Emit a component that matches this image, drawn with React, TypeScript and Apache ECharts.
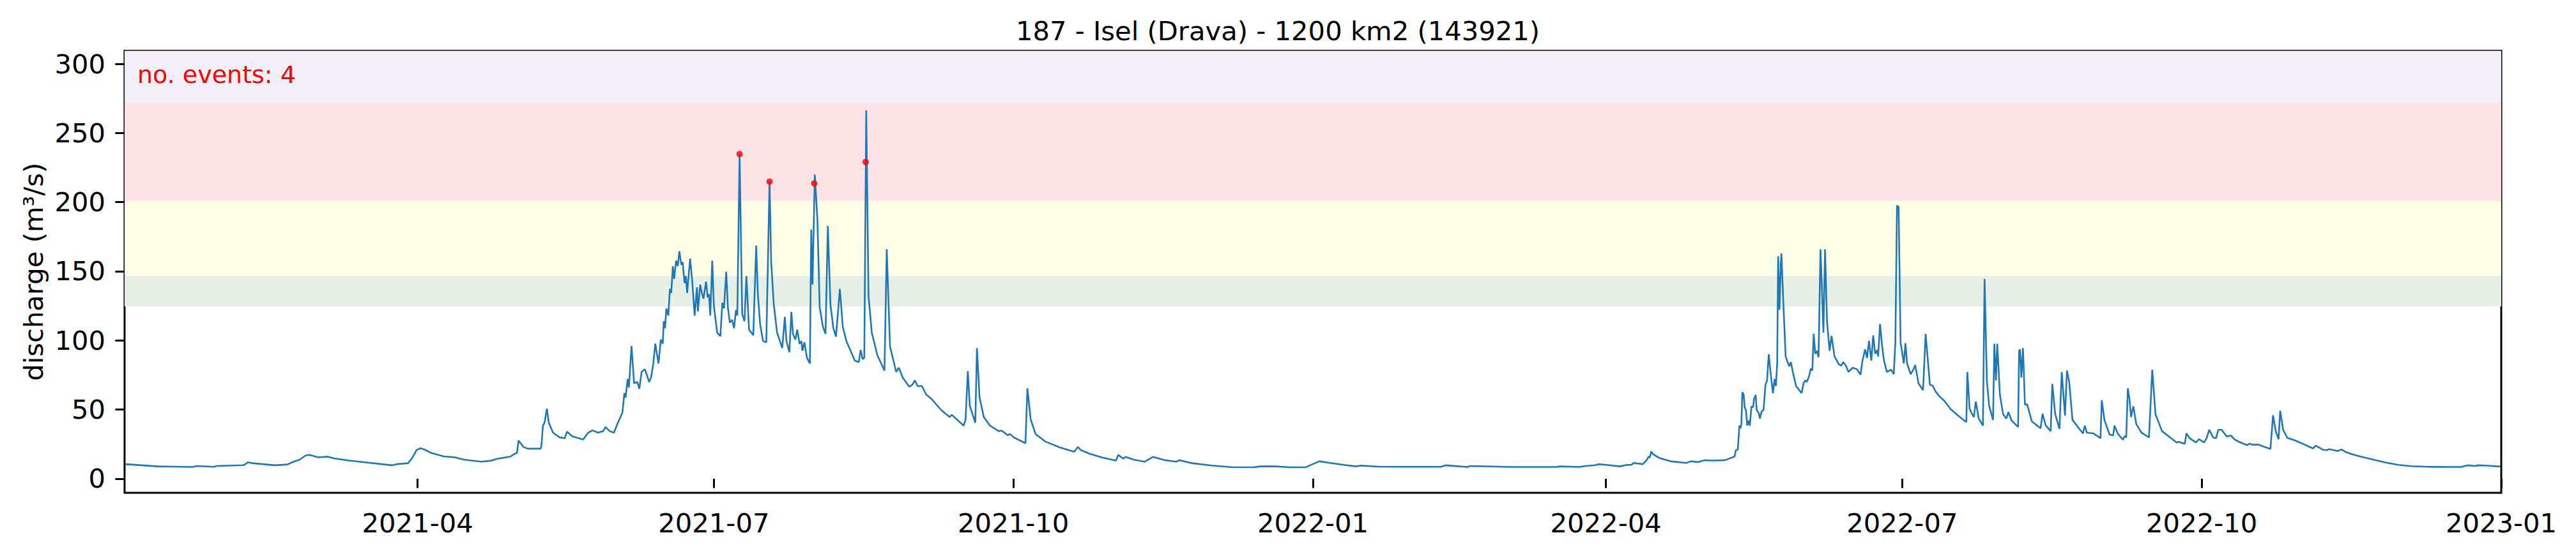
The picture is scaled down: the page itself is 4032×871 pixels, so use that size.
import { useEffect, useRef } from "react";
import * as echarts from "echarts";

// day offsets from 2021-01-01 and discharge (m3/s)
const discharge: [number, number][] = [
  [0.2, 10.5], [10.3, 8.9], [21, 8.5], [22.1, 9.2], [27.5, 8.6], [28.2, 9.2], [36.3, 9.8], [37, 10.3],
  [37.9, 12], [39.3, 11.2], [46.2, 9.7], [50, 10.3], [51.9, 12.3], [53.8, 13.8], [55.7, 16.9], [56.9, 17.2],
  [59.6, 15.4], [62.2, 16], [64.5, 14.6], [69.1, 13.1], [75.2, 11.5], [82.1, 9.7], [83.6, 10.5], [87.1, 11.2],
  [88.2, 14.6], [89, 17.7], [89.7, 20.8], [90.9, 22], [92, 21.2], [94.3, 18.5], [98.1, 16.1], [101.6, 15.4],
  [104.2, 13.8], [109.6, 12.3], [112.7, 13.1], [114.2, 14.3], [118.5, 16], [119.8, 18], [120.5, 18.5],
  [121, 27.6], [122.5, 23], [123.8, 21.7], [127.7, 21.7], [128, 23], [128.5, 38.4], [129, 40.5],
  [129.7, 50.7], [130.3, 40.5], [131.6, 33.3], [133.6, 29.9], [135.2, 29.3], [135.9, 34], [137.5, 30.7],
  [140.8, 28.3], [142.4, 33.3], [143.7, 35], [145.4, 33.3], [147, 34.4], [147.7, 37.4], [149, 34.4],
  [150.3, 33.3], [151.6, 40.9], [152.9, 47.6], [153.5, 61.9], [153.9, 58.8], [154.5, 72.1], [154.9, 66],
  [155.7, 96], [156.5, 69], [157.5, 70], [158.1, 65], [158.8, 77.2], [159.8, 79.2], [160.4, 75.2],
  [161.1, 70], [161.7, 73.1], [162.4, 83.3], [163, 97.6], [164, 83.3], [164.7, 100.6], [165.3, 97.6],
  [165.6, 113.9], [166, 108.8], [166.4, 123.1], [167, 118], [167.5, 137.3], [167.9, 134.3], [168.4, 153.7],
  [168.8, 144.5], [169.4, 157.7], [169.9, 153.7], [170.4, 164.5], [171, 154.7], [171.4, 156.7],
  [172, 141.4], [172.4, 146.5], [172.8, 134.3], [173.7, 159.2], [174.3, 144.5], [175.1, 118],
  [175.8, 138.4], [176.1, 121], [176.8, 140.4], [177.3, 134.3], [177.8, 130.2], [178.6, 142.5],
  [179.1, 131.2], [179.5, 133.3], [179.9, 118], [180.5, 157.7], [181, 125.1], [182, 105.7], [183, 103.1],
  [183.6, 127.2], [184.1, 123.1], [184.8, 149.6], [185.3, 124.1], [185.9, 112.9], [186.6, 114.9],
  [187.2, 108.8], [187.8, 122.1], [188.2, 118], [188.9, 234.8], [189.7, 119], [190.4, 113.9], [191, 146.5],
  [191.8, 107.8], [193.1, 103.7], [194, 168.6], [194.5, 134.3], [195.2, 111.9], [196.1, 99.6],
  [197.1, 98.6], [198.1, 214.9], [198.6, 156.7], [199.4, 126.1], [200.4, 105.7], [202, 94.5],
  [202.8, 117], [203.3, 99.6], [204.2, 91.5], [204.8, 120.6], [205.3, 104.7], [206, 100.6], [206.6, 107.8],
  [207.3, 97.6], [207.9, 99.6], [208.2, 92.5], [208.8, 98.6], [209.6, 87.4], [210.5, 83.3], [210.9, 180.2],
  [211.3, 140.4], [212, 219.9], [212.8, 187.3], [213.5, 124.1], [214.5, 109.8], [215.3, 104.7],
  [216, 182.8], [216.8, 126.1], [217.7, 108.8], [218.5, 102.7], [218.9, 113.9], [219.7, 137.3],
  [220.6, 109.8], [221.7, 99.6], [224.3, 85.4], [225.5, 84.3], [226.1, 93.1], [226.7, 86.4], [227.2, 87.4],
  [227.8, 266.5], [228.5, 132.3], [229.5, 105.7], [231.2, 89.4], [233.4, 78.2], [234.1, 165.9],
  [235.1, 95.5], [237, 77.2], [237.8, 80.3], [239, 73.1], [241, 66.6], [242, 68], [242.7, 71.1],
  [243.6, 67], [244.9, 67], [246.2, 60.9], [247.8, 57.8], [250.8, 49.7], [253.4, 44.6], [254.1, 46.2],
  [257.7, 38.4], [258.3, 42.5], [259, 77.8], [259.6, 52.7], [261.3, 40.5], [261.8, 94.5], [262.6, 58.8],
  [263.9, 44.6], [265.8, 38.4], [268.5, 34.4], [269.4, 34.8], [271.2, 31.5], [271.9, 32.3], [273.4, 29.5],
  [276.7, 25.7], [277.3, 65.4], [278.3, 43], [279.8, 32.3], [282.8, 26.9], [287.3, 22.6], [291.7, 19.5],
  [292.8, 23], [293.7, 20.7], [296.4, 18.1], [300.1, 15.4], [304.5, 13.1], [305.2, 17.2], [306.7, 14.6],
  [307.5, 15.8], [309.9, 13.8], [313.3, 12.3], [315.9, 15.8], [319.6, 13.4], [323, 12.3], [324, 13.4],
  [327.9, 11.2], [333.9, 9.5], [339.9, 8.4], [346.7, 8.3], [348.9, 8.9], [353.5, 8.9], [358, 8.3],
  [362.8, 8.3], [364.7, 10.3], [367, 12.6], [370, 11.5], [374.5, 10], [378.2, 8.9], [379.7, 9.5],
  [385, 8.7], [390.6, 8.6], [404.3, 8.6], [405.7, 9.7], [412.4, 8.5], [413.4, 9.2], [425.7, 8.5],
  [439.7, 8.5], [441.1, 8.9], [446.7, 8.5], [448.8, 9.2], [451.6, 9.8], [452.7, 10.5], [455.1, 10],
  [459.3, 8.9], [461.4, 10], [462.8, 10], [463.5, 11.4], [466.3, 10.5], [467.4, 13.1], [468.1, 15.8],
  [468.5, 15.4], [468.9, 19.7], [469.5, 17.7], [471.3, 15.1], [474.8, 12.6], [479.7, 11.4], [481.1, 12.6],
  [483.2, 12], [485.3, 13.4], [487.4, 13.1], [491.6, 13.4], [494.5, 16], [494.9, 20.5], [495.5, 21.1],
  [496, 38.4], [496.3, 36.4], [496.6, 39.5], [496.9, 62.5], [497.3, 60.9], [497.6, 51.7], [498, 49.7],
  [498.4, 38.4], [498.9, 42.1], [499.2, 38.4], [499.7, 52.3], [500.2, 51.7], [500.5, 57.8], [501, 60.5],
  [501.3, 49.7], [501.9, 47.6], [502.3, 43.5], [502.8, 48.6], [503.4, 49.7], [504, 68], [504.5, 71.1],
  [505, 90], [505.6, 76.2], [506.3, 61.9], [506.8, 72.1], [507.2, 67], [507.6, 83.3], [507.9, 160.8],
  [508.3, 122.1], [508.7, 154.7], [508.9, 162.9], [509.4, 132.3], [510.2, 88.4], [510.8, 84.3],
  [511.3, 81.3], [511.8, 84.3], [512.5, 76.2], [513.4, 67], [515.1, 61.9], [515.7, 69], [516.2, 71.1],
  [516.7, 70], [517.4, 74.1], [517.9, 79.6], [518.4, 78.2], [518.8, 104.7], [519.3, 90.4], [519.8, 92.5],
  [520.3, 87.8], [520.9, 165.9], [521.3, 140.4], [521.8, 105.7], [522.3, 165.9], [522.9, 113.9],
  [523.7, 92.5], [524.3, 103.3], [525.2, 88.4], [526.5, 82.9], [527.2, 81.7], [527.9, 84.3], [528.8, 81.3],
  [529.5, 77.2], [530.8, 80.3], [532.1, 79.2], [533.2, 75.2], [533.7, 84.3], [534.6, 93.5], [535.2, 87.4],
  [535.8, 99.6], [536.5, 85.4], [537.1, 103.7], [537.7, 90.4], [538.3, 93.1], [538.6, 88.4],
  [539.2, 111.9], [539.8, 96.6], [540.4, 85.4], [541.3, 77.2], [542.6, 78.8], [543.4, 75.6], [543.9, 98.6],
  [544.4, 197.5], [544.9, 196.5], [545.5, 98.6], [546.5, 83.3], [547, 98], [547.5, 83.3], [548.6, 75.6],
  [549.5, 79.2], [550, 82.3], [551, 69], [552.4, 64], [553.2, 104.7], [554.5, 68], [555.3, 67.4],
  [556.3, 62.9], [557.3, 59.9], [558.9, 56.4], [560.9, 50.3], [563.5, 45], [565.7, 40.9], [566, 77.2],
  [566.7, 50.7], [567.5, 46.6], [568, 44.6], [568.6, 55.8], [569.5, 43.5], [570.8, 38.4], [571.3, 144.5],
  [572, 71.1], [572.7, 52.7], [573.9, 42.5], [574.3, 97.6], [574.8, 71.1], [575.2, 97.6], [576, 60.9],
  [577, 46.6], [578, 43.5], [578.6, 48.2], [579.6, 42.1], [581.6, 37.4], [581.9, 92.5], [582.2, 93.5],
  [582.6, 73.1], [583.1, 94.5], [583.7, 53.7], [584.4, 53.7], [585.8, 41.5], [588.5, 36.4], [589.1, 47],
  [590.1, 38.4], [591.6, 34.4], [592.1, 68.6], [593, 46.6], [594.3, 36], [595, 77.2], [596, 45.6],
  [596.6, 78.2], [597.3, 70], [598.3, 42.5], [601.5, 32.7], [602.1, 38.4], [602.7, 33.3], [604.8, 32.7],
  [606.9, 29.3], [607.3, 56.8], [608.1, 42.5], [609.7, 31.9], [610.8, 31.3], [611.2, 38.4], [612.3, 32.3],
  [613.8, 28.2], [614.3, 30.7], [614.8, 29.9], [615.3, 65.4], [615.8, 57.8], [616.3, 44.6], [617, 52.3],
  [617.9, 39.5], [619.5, 33.3], [621.8, 29.9], [622.8, 78.8], [623.8, 46.6], [625.8, 34.4], [630.3, 26.2],
  [631, 26.6], [632.8, 25.2], [633.3, 32.7], [634.3, 29.3], [636.2, 26.2], [637.2, 28.6], [638.7, 26.2],
  [639.5, 29.3], [640.3, 35.4], [641.5, 29.9], [642.4, 29.3], [643.1, 35.4], [644.1, 35.4], [645.7, 30.5],
  [647, 31.2], [648, 28.5], [649.6, 26.5], [651.9, 24.3], [652.7, 25.4], [653.5, 24.6], [655.5, 24.6],
  [657.5, 22.8], [659.1, 21.5], [659.9, 45.9], [660.7, 34.6], [661.6, 28.5], [662.1, 49.2], [663, 35.4],
  [664.3, 29.5], [666.3, 28], [668.9, 25.4], [672.2, 21.9], [673, 23.9], [675.1, 21.1], [676.4, 20.6],
  [677.1, 21.4], [678.7, 20.6], [679.7, 20], [681, 21.1], [682.3, 19.2], [684.6, 17.4], [687.2, 15.8],
  [690.5, 13.9], [694.4, 11.7], [698.4, 10], [702.3, 9.1], [707.5, 8.6], [714.1, 8.5], [717.7, 8.5],
  [719.6, 9.7], [721.9, 9.2], [722.9, 9.7], [725.9, 9.4], [729.8, 8.8],
];

// flood events (red dots)
const eventDays = [188.9, 198.1, 211.8, 227.6];
const eventValues = [234.8, 214.9, 213.6, 229.1];

// warning bands (lower, upper) and colours
const bandLimits: [number, number][] = [
  [124.6, 146.7],
  [146.7, 201],
  [201, 271.8],
  [271.8, 309.5],
];
const bandColors = ["#e6f0e6", "#fefee6", "#fee3e6", "#f2eff9"];

const yTicks = [0, 50, 100, 150, 200, 250, 300];
// x ticks: first day of each quarter, as day offsets from 2021-01-01
const xTickDays = [90, 181, 273, 365, 455, 546, 638, 730];

const START = Date.UTC(2021, 0, 1);
const DAY = 86400000;
const FONT = "DejaVu Sans";

const dayLabel = (d: number) => {
  const date = new Date(START + d * DAY);
  return `${date.getUTCFullYear()}-${String(date.getUTCMonth() + 1).padStart(2, "0")}`;
};

const App = () => {
  const chartRef = useRef<HTMLDivElement>(null);

  useEffect(() => {
    const chart = echarts.init(chartRef.current, null, { renderer: "svg" });

    chart.setOption({
      animation: false,
      backgroundColor: "#fff",
      textStyle: { fontFamily: FONT },
      title: {
        text: "187 - Isel (Drava) - 1200 km2 (143921)",
        left: 1995,
        top: 22,
        textAlign: "center",
        textStyle: { fontFamily: FONT, fontSize: 41.7, fontWeight: "normal", color: "#000" },
      },
      grid: {
        left: 195,
        right: 117,
        top: 79.5,
        bottom: 99,
        show: true,
        borderColor: "#000",
        borderWidth: 3,
        backgroundColor: "transparent",
      },
      xAxis: {
        type: "value",
        min: 0,
        max: 730,
        splitLine: { show: false },
        axisLine: { show: false },
        axisTick: {
          show: true,
          length: 14.6,
          lineStyle: { color: "#000", width: 3 },
          customValues: xTickDays,
        },
        axisLabel: {
          fontFamily: FONT,
          fontSize: 41.7,
          color: "#000",
          margin: 26,
          customValues: xTickDays,
          formatter: (v: number) => dayLabel(v),
        },
      },
      yAxis: {
        type: "value",
        min: -10.2,
        max: 309.5,
        name: "discharge (m³/s)",
        nameLocation: "middle",
        nameGap: 122,
        nameTextStyle: { fontFamily: FONT, fontSize: 41.7, color: "#000" },
        splitLine: { show: false },
        axisLine: { show: false },
        axisTick: {
          show: true,
          length: 14.6,
          lineStyle: { color: "#000", width: 3 },
          customValues: yTicks,
        },
        axisLabel: {
          fontFamily: FONT,
          fontSize: 41.7,
          color: "#000",
          margin: 30,
          customValues: yTicks,
        },
      },
      graphic: [
        {
          type: "text",
          left: 215,
          top: 98,
          z: 100,
          zlevel: 0,
          style: { text: "no. events: 4", fill: "#ff0000", font: `38px "${FONT}"` },
        },
      ],
      series: [
        {
          type: "line",
          data: discharge,
          showSymbol: false,
          lineStyle: { color: "#1f77b4", width: 2.6 },
          z: 2,
          markArea: {
            silent: true,
            itemStyle: { opacity: 1 },
            data: bandLimits.map(([lo, hi], i) => [
              { yAxis: lo, itemStyle: { color: bandColors[i] } },
              { yAxis: hi },
            ]),
          },
        },
        {
          type: "scatter",
          data: eventDays.map((d, i) => [d, eventValues[i]]),
          symbolSize: 10,
          itemStyle: { color: "#ff0000" },
          z: 3,
        },
      ],
    });

    const handleResize = () => chart.resize();
    window.addEventListener("resize", handleResize);
    return () => {
      window.removeEventListener("resize", handleResize);
      chart.dispose();
    };
  }, []);

  return (
    <div
      ref={chartRef}
      style={{ position: "absolute", left: 0, top: 0, width: "4032px", height: "871px" }}
    />
  );
};

export default App;
